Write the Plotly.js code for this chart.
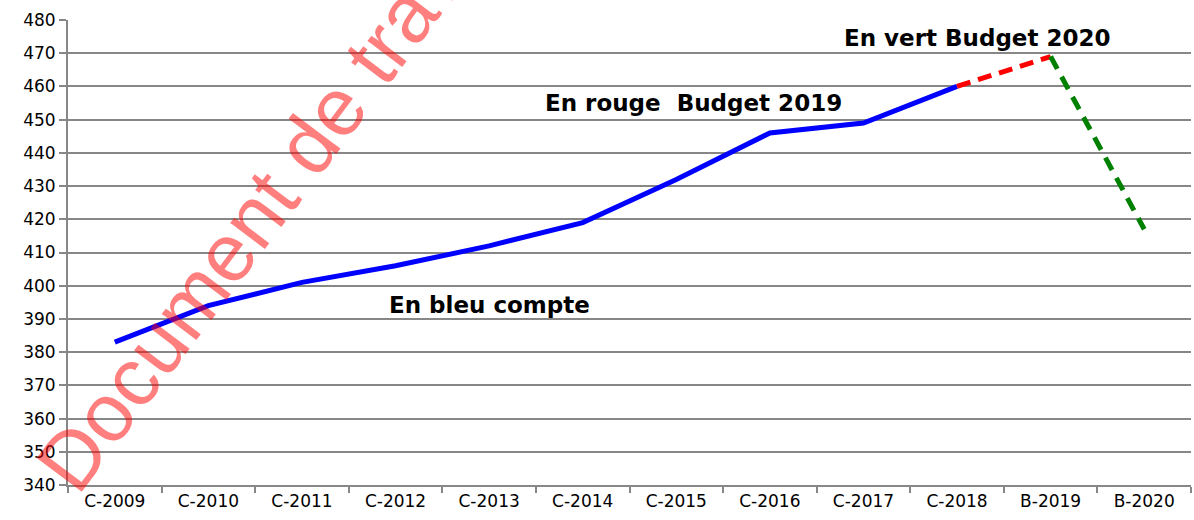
<!DOCTYPE html>
<html>
<head>
<meta charset="utf-8">
<script src="https://cdn.plot.ly/plotly-3.0.1.min.js"></script>
<style>
html,body{margin:0;padding:0;background:#fff;}
#chart{width:1194px;height:520px;}
</style>
</head>
<body>
<div id="chart"></div>
<script>
// Data
const categories = ["C-2009","C-2010","C-2011","C-2012","C-2013","C-2014","C-2015","C-2016","C-2017","C-2018","B-2019","B-2020"];
const compteCats = ["C-2009","C-2010","C-2011","C-2012","C-2013","C-2014","C-2015","C-2016","C-2017","C-2018"];
const compteValues = [383, 394, 401, 406, 412, 419, 432, 446, 449, 460];
const budget2019Cats = ["C-2018","B-2019"];
const budget2019Values = [460, 469];
const budget2020Cats = ["B-2019","B-2020"];
const budget2020Values = [469, 417];
const yTicks = [340,350,360,370,380,390,400,410,420,430,440,450,460,470,480];

const traces = [
  {x: compteCats, y: compteValues, type: "scatter", mode: "lines",
   line: {color: "#0000ff", width: 5}, hoverinfo: "skip"},
  {x: budget2019Cats, y: budget2019Values, type: "scatter", mode: "lines",
   line: {color: "#ff0000", width: 5, dash: "14px,8px"}, hoverinfo: "skip"},
  {x: budget2020Cats, y: budget2020Values, type: "scatter", mode: "lines",
   line: {color: "#008000", width: 5, dash: "14px,9px"}, hoverinfo: "skip"}
];

const labelFont = {family: "DejaVu Sans", size: 23, color: "#000000", weight: "bold"};

const layout = {
  width: 1194, height: 520,
  margin: {l: 68, r: 3, t: 20, b: 35, pad: 0},
  paper_bgcolor: "#ffffff", plot_bgcolor: "#ffffff",
  showlegend: false,
  font: {family: "DejaVu Sans", size: 17, color: "#000000"},
  xaxis: {
    type: "category", categoryorder: "array", categoryarray: categories,
    range: [-0.5, categories.length - 0.5],
    showgrid: false, showline: true, linecolor: "#878787", linewidth: 2,
    ticks: "outside", tickson: "boundaries", ticklen: 6, tickcolor: "#878787", tickwidth: 2,
    tickfont: {family: "DejaVu Sans", size: 17, color: "#000000"},
    zeroline: false, fixedrange: true
  },
  yaxis: {
    range: [340, 480], tickvals: yTicks, ticktext: yTicks.map(String),
    showgrid: true, gridcolor: "#878787", gridwidth: 2,
    showline: true, linecolor: "#878787", linewidth: 2,
    ticks: "outside", ticklen: 7, tickcolor: "#878787", tickwidth: 2,
    tickfont: {family: "DejaVu Sans", size: 17, color: "#000000"},
    zeroline: false, fixedrange: true
  },
  annotations: [
    {xref: "paper", yref: "paper", x: 0.8094, y: 0.9613, xanchor: "center", yanchor: "middle",
     text: "<b>En vert Budget 2020</b>", showarrow: false, font: labelFont},
    {xref: "paper", yref: "paper", x: 0.5574, y: 0.8215, xanchor: "center", yanchor: "middle",
     text: "<b>En rouge\u00a0 Budget 2019</b>", showarrow: false, font: labelFont},
    {xref: "paper", yref: "paper", x: 0.3749, y: 0.3871, xanchor: "center", yanchor: "middle",
     text: "<b>En bleu compte</b>", showarrow: false, font: labelFont},
    {xref: "paper", yref: "paper", x: 0.1843, y: 0.6366, xanchor: "center", yanchor: "middle",
     text: "Document de travail", showarrow: false, textangle: -53,
     font: {family: "Liberation Sans", size: 82, color: "rgba(255,0,0,0.5)"}}
  ]
};

Plotly.newPlot("chart", traces, layout, {staticPlot: true, displayModeBar: false});
</script>
</body>
</html>
